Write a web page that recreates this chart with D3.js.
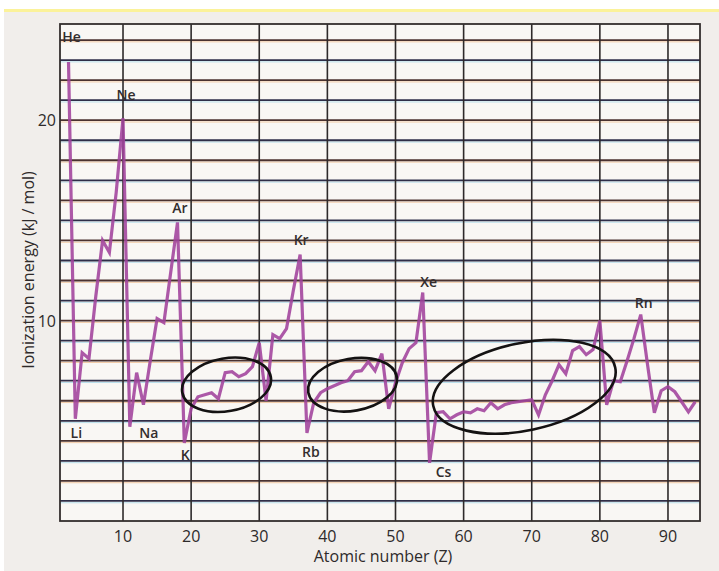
<!DOCTYPE html>
<html>
<head>
<meta charset="utf-8">
<script src="https://cdn.jsdelivr.net/npm/d3@7"></script>
<style>
  body { margin: 0; background: #ffffff; }
  svg { display: block; font-family: "Open Sans", "DejaVu Sans", sans-serif; }
  .tick-label { font-size: 16px; fill: #2e2a2a; }
  .axis-title { font-size: 16px; fill: #2e2a2a; }
  .elem-label { font-size: 14px; font-weight: 600; fill: #332d2d; }
</style>
</head>
<body>
<svg id="chart"></svg>
<script>
// element symbols, Z = 2 .. 94
const symbols = ["He","Li","Be","B","C","N","O","F","Ne",
  "Na","Mg","Al","Si","P","S","Cl","Ar",
  "K","Ca","Sc","Ti","V","Cr","Mn","Fe","Co","Ni","Cu","Zn","Ga","Ge","As","Se","Br","Kr",
  "Rb","Sr","Y","Zr","Nb","Mo","Tc","Ru","Rh","Pd","Ag","Cd","In","Sn","Sb","Te","I","Xe",
  "Cs","Ba","La","Ce","Pr","Nd","Pm","Sm","Eu","Gd","Tb","Dy","Ho","Er","Tm","Yb","Lu",
  "Hf","Ta","W","Re","Os","Ir","Pt","Au","Hg","Tl","Pb","Bi","Po","At","Rn",
  "Fr","Ra","Ac","Th","Pa","U","Np","Pu"]

// values
const energy = [22.9, 5.1, 8.4, 8.1, 11.2, 14.0, 13.4, 16.4, 20.1,
  4.7, 7.4, 5.8, 8.0, 10.1, 9.9, 12.4, 14.9,
  3.9, 5.6, 6.2, 6.3, 6.4, 6.1, 7.4, 7.45, 7.2, 7.35, 7.7, 8.9, 6.0, 9.3, 9.1, 9.6, 11.5, 13.3,
  4.4, 5.9, 6.4, 6.6, 6.75, 6.9, 7.0, 7.45, 7.5, 7.95, 7.5, 8.35, 5.6, 6.9, 7.9, 8.6, 8.9, 11.4,
  2.9, 5.4, 5.45, 5.1, 5.3, 5.45, 5.4, 5.6, 5.5, 5.9, 5.6, 5.8, 5.9, 5.95, 6.0, 6.05, 5.3,
  6.3, 7.0, 7.8, 7.35, 8.5, 8.7, 8.3, 8.55, 10.0, 5.8, 7.0, 6.95, 8.0, 9.1, 10.3,
  7.8, 5.4, 6.5, 6.7, 6.45, 5.95, 5.45, 5.95]

const xTicks = [10, 20, 30, 40, 50, 60, 70, 80, 90]
const yTicks = [10, 20]
const gridValues = [1,2,3,4,5,6,7,8,9,10,11,12,13,14,15,16,17,18,19,20,21,22,23,24]

const labelled = ["He","Ne","Ar","Kr","Xe","Rn","Li","Na","K","Rb","Cs"]

// hand drawn rings: centre (Z, energy) and half axes (Z, energy)
const ringZ = [25.2, 43.7, 68.9]
const ringE = [6.8, 6.8, 6.7]
const ringHalfZ = [6.6, 6.6, 13.65]
const ringHalfE = [1.32, 1.3, 2.18]

let width = 719
let height = 571
let plotLeft = 60, plotRight = 700, plotTop = 24, plotBottom = 521

let svg = d3.select("#chart")
  .attr("width", width)
  .attr("height", height)

let data = energy.map((v, i) => ({ z: i + 2, sym: symbols[i], e: v }))

let xScale = d3.scaleLinear()
  .domain([0.75, 94.7])
  .range([plotLeft, plotRight])

let yScale = d3.scaleLinear()
  .domain([0, 24.8])
  .range([plotBottom, plotTop])

// paper
svg.append("rect")
  .attr("x", 4).attr("y", 10)
  .attr("width", width - 4).attr("height", height - 10)
  .attr("fill", "#f1eeeb")
svg.append("rect")
  .attr("x", 4).attr("y", 9)
  .attr("width", width - 4).attr("height", 3)
  .attr("fill", "#fbf29a")
svg.append("rect")
  .attr("x", plotLeft).attr("y", plotTop)
  .attr("width", plotRight - plotLeft).attr("height", plotBottom - plotTop)
  .attr("fill", "#f9f7f4")

// horizontal rules, the scan gives them blue / brown fringes
let hGrid = svg.append("g")
hGrid.selectAll("line.fringe")
  .data(gridValues)
  .enter()
  .append("line")
    .attr("class", "fringe")
    .attr("x1", plotLeft).attr("x2", plotRight)
    .attr("y1", d => yScale(d) + 1.8)
    .attr("y2", d => yScale(d) + 1.8)
    .attr("stroke", (d, i) => i % 2 ? "#eea868" : "#86cde6")
    .attr("stroke-width", 1)
    .attr("opacity", 0.55)
hGrid.selectAll("line.rule")
  .data(gridValues)
  .enter()
  .append("line")
    .attr("class", "rule")
    .attr("x1", plotLeft).attr("x2", plotRight)
    .attr("y1", d => yScale(d))
    .attr("y2", d => yScale(d))
    .attr("stroke", (d, i) => i % 2 ? "#4a3230" : "#2f2e48")
    .attr("stroke-width", 1.8)

svg.append("g")
  .selectAll("line")
  .data(xTicks)
  .enter()
  .append("line")
    .attr("x1", d => xScale(d)).attr("x2", d => xScale(d))
    .attr("y1", plotTop).attr("y2", plotBottom)
    .attr("stroke", "#2e2a2a")
    .attr("stroke-width", 1.6)

svg.append("rect")
  .attr("x", plotLeft).attr("y", plotTop)
  .attr("width", plotRight - plotLeft).attr("height", plotBottom - plotTop)
  .attr("fill", "none")
  .attr("stroke", "#332e2e")
  .attr("stroke-width", 1.8)

// the curve
let line = d3.line()
  .x(d => xScale(d.z))
  .y(d => yScale(d.e))

svg.append("path")
  .datum(data)
  .attr("d", line)
  .attr("fill", "none")
  .attr("stroke", "#a0429c")
  .attr("stroke-width", 3.2)
  .attr("stroke-linejoin", "miter")
  .attr("opacity", 0.88)

// rings
let tilt = [-10, -10, -12]
svg.append("g")
  .selectAll("ellipse")
  .data(ringZ)
  .enter()
  .append("ellipse")
    .attr("cx", 0).attr("cy", 0)
    .attr("rx", (d, i) => xScale(d + ringHalfZ[i]) - xScale(d))
    .attr("ry", (d, i) => yScale(ringE[i] - ringHalfE[i]) - yScale(ringE[i]))
    .attr("transform", (d, i) => "translate(" + xScale(d) + "," + yScale(ringE[i]) + ") rotate(" + tilt[i] + ")")
    .attr("fill", "none")
    .attr("stroke", "#141212")
    .attr("stroke-width", 2.6)

// element names
let offsets = {
  He: [3, -20], Ne: [3, -18], Ar: [2.5, -9.5], Kr: [1, -9.5], Xe: [6, -5.5], Rn: [3, -6.6],
  Li: [1, 19], Na: [19, 11], K: [1, 17], Rb: [4, 24], Cs: [14, 14]
}
svg.append("g")
  .selectAll("text")
  .data(data.filter(d => labelled.includes(d.sym)))
  .enter()
  .append("text")
    .attr("class", "elem-label")
    .attr("text-anchor", "middle")
    .attr("x", d => xScale(d.z) + offsets[d.sym][0])
    .attr("y", d => yScale(d.e) + offsets[d.sym][1])
    .text(d => d.sym)

// tick labels
svg.append("g")
  .selectAll("text")
  .data(xTicks)
  .enter()
  .append("text")
    .attr("class", "tick-label")
    .attr("text-anchor", "middle")
    .attr("x", d => xScale(d))
    .attr("y", plotBottom + 21)
    .text(d => d)

svg.append("g")
  .selectAll("text")
  .data(yTicks)
  .enter()
  .append("text")
    .attr("class", "tick-label")
    .attr("text-anchor", "end")
    .attr("x", plotLeft - 4)
    .attr("y", d => yScale(d) + 6)
    .text(d => d)

svg.append("text")
  .attr("class", "axis-title")
  .attr("text-anchor", "middle")
  .attr("x", (plotLeft + plotRight) / 2 + 3)
  .attr("y", plotBottom + 41)
  .text("Atomic number (Z)")

svg.append("text")
  .attr("class", "axis-title")
  .attr("text-anchor", "middle")
  .attr("transform", "translate(34," + 270 + ") rotate(-90)")
  .text("Ionization energy (kJ / mol)")
</script>
</body>
</html>
